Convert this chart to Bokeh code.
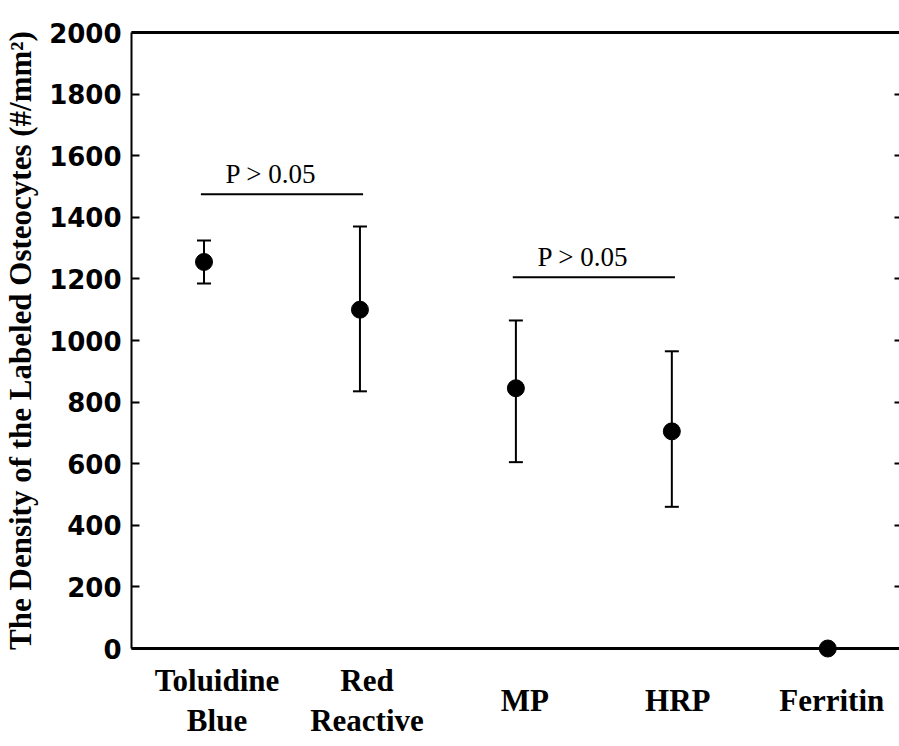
from bokeh.plotting import figure
from bokeh.models import (ColumnDataSource, Whisker, TeeHead, FixedTicker,
                          LinearAxis, Range1d)
from bokeh.embed import file_html
from bokeh.resources import INLINE
from bokeh.core.properties import value

# Labeled osteocyte density per staining method (mean with error range)
categories = ["Toluidine\nBlue", "Red\nReactive", "MP", "HRP", "Ferritin"]
density_mean = [1255, 1100, 845, 705, 0]
density_upper = [1325, 1370, 1065, 965, 0]
density_lower = [1185, 835, 605, 460, 0]

y_ticks = [0, 200, 400, 600, 800, 1000, 1200, 1400, 1600, 1800, 2000]

# Pairwise comparisons: category indices (1-based), bar level, annotation
comparison_pairs = [(1, 2), (3, 4)]
comparison_levels = [1475, 1205]
comparison_text = ["P > 0.05", "P > 0.05"]

positions = list(range(1, len(categories) + 1))

SERIF = "Liberation Serif"
SANS = "DejaVu Sans"

p = figure(width=899, height=746, output_backend="svg", toolbar_location=None,
           x_range=Range1d(0.535, 5.46), y_range=Range1d(0, 2000),
           min_border_left=0, min_border_right=0, min_border_top=32,
           min_border_bottom=98)
p.outline_line_color = None
p.grid.visible = False
p.background_fill_color = "white"
p.border_fill_color = "white"

# left axis
ya = p.yaxis[0]
ya.ticker = FixedTicker(ticks=y_ticks)
ya.axis_line_width = 2
ya.major_tick_in = 8
ya.major_tick_out = 0
ya.major_tick_line_width = 2
ya.minor_tick_line_color = None
ya.major_label_standoff = 10
ya.major_label_text_font = SANS
ya.major_label_text_font_style = "bold"
ya.major_label_text_font_size = "26px"
ya.major_label_text_color = "black"
ya.axis_label = "The Density of the Labeled Osteocytes (#/mm²)"
ya.axis_label_text_font = SERIF
ya.axis_label_text_font_style = "bold"
ya.axis_label_text_font_size = "31px"
ya.axis_label_text_color = "black"
ya.axis_label_standoff = 8

# bottom axis: plain line, category names drawn as text below
xa = p.xaxis[0]
xa.ticker = FixedTicker(ticks=[])
xa.axis_line_width = 3
xa.minor_tick_line_color = None

# top line
top = LinearAxis(ticker=FixedTicker(ticks=[]), axis_line_width=3,
                 minor_tick_line_color=None)
p.add_layout(top, "above")

# right axis: inward ticks only, no labels
right = LinearAxis(ticker=FixedTicker(ticks=y_ticks), axis_line_color=None,
                   major_tick_in=5, major_tick_out=0, major_tick_line_width=2,
                   minor_tick_line_color=None, major_label_text_color=None,
                   major_label_text_font_size="1px", major_label_standoff=0)
p.add_layout(right, "right")

# error bars (skip categories without spread)
eb = [i for i in range(len(positions)) if density_upper[i] != density_lower[i]]
err_src = ColumnDataSource(dict(
    x=[positions[i] for i in eb],
    upper=[density_upper[i] for i in eb],
    lower=[density_lower[i] for i in eb],
))
p.add_layout(Whisker(base="x", upper="upper", lower="lower", source=err_src,
                     line_width=2, line_color="black",
                     upper_head=TeeHead(size=14, line_width=2, line_color="black"),
                     lower_head=TeeHead(size=14, line_width=2, line_color="black")))

# mean markers
pts = ColumnDataSource(dict(x=positions, y=density_mean))
p.scatter("x", "y", source=pts, size=17, color="black", level="overlay")

# comparison bars with p-value annotation
for (a, b), lvl, txt in zip(comparison_pairs, comparison_levels, comparison_text):
    p.segment(x0=[a - 0.02], y0=[lvl], x1=[b + 0.02], y1=[lvl],
              line_width=2, line_color="black")
    p.text(x=[(a + b) / 2 - 0.07], y=[lvl], text=[txt],
           text_font=value(SERIF), text_font_size="27px", text_color="black",
           text_align="center", text_baseline="bottom", y_offset=-5)

# category names under the axis (drawn unclipped, offset below the baseline)
label_shift = [13, 7, 9, 6, 4]
cat_src = ColumnDataSource(dict(x=positions, y=[0] * len(positions),
                                name=categories, dx=label_shift))
p.text(x="x", y="y", text="name", x_offset="dx", y_offset=52, source=cat_src,
       text_font=value(SERIF), text_font_style="bold", text_font_size="31px",
       text_color="black", text_align="center", text_baseline="middle",
       text_line_height=1.12, level="overlay")

open("out.html", "w").write(file_html(p, INLINE))
